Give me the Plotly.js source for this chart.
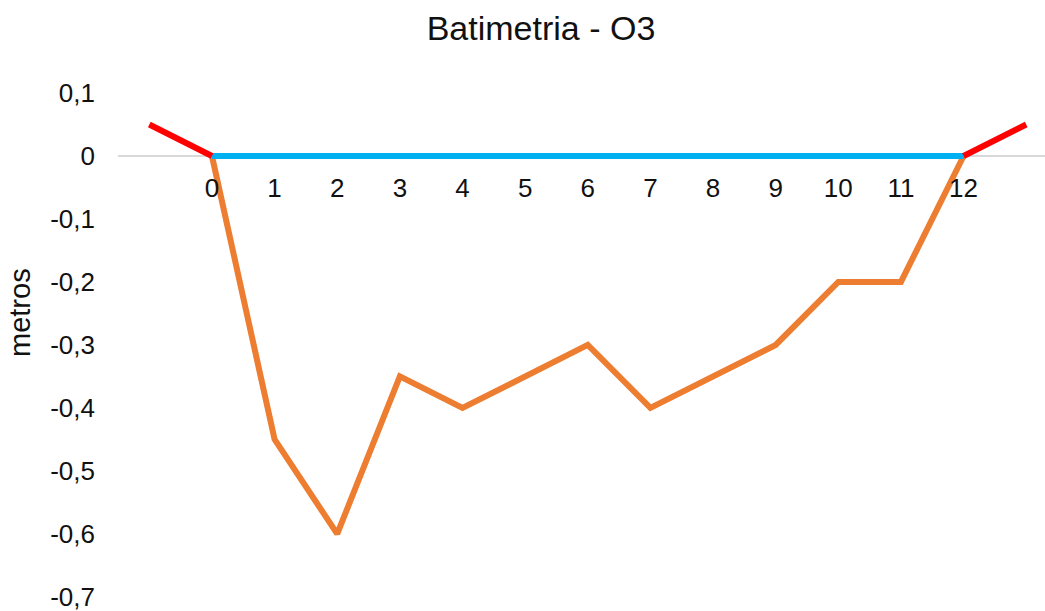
<!DOCTYPE html>
<html>
<head>
<meta charset="utf-8">
<script src="https://cdn.plot.ly/plotly-3.0.1.min.js"></script>
<style>html,body{margin:0;padding:0;background:#fff;}#chart{width:1045px;height:611px;}</style>
</head>
<body>
<div id="chart"></div>
<script>
// Data
const stations = [0, 1, 2, 3, 4, 5, 6, 7, 8, 9, 10, 11, 12];
const depth = [0, -0.45, -0.6, -0.35, -0.4, -0.35, -0.3, -0.4, -0.35, -0.3, -0.2, -0.2, 0];
const surfaceX = [0, 12];
const surfaceY = [0, 0];
const leftBankX = [-1, 0];
const leftBankY = [0.05, 0];
const rightBankX = [12, 13];
const rightBankY = [0, 0.05];
const yTickVals = [0.1, 0, -0.1, -0.2, -0.3, -0.4, -0.5, -0.6, -0.7];
const yTickText = ['0,1', '0', '-0,1', '-0,2', '-0,3', '-0,4', '-0,5', '-0,6', '-0,7'];
const xTickVals = stations;
const xTickText = stations.map(String);

const font = 'Liberation Sans, Arial, sans-serif';
const yMin = -0.705, yMax = 0.1;

const traces = [
  {x: stations, y: depth, type: 'scatter', mode: 'lines',
   line: {color: '#ED7D31', width: 6, shape: 'linear'}, hoverinfo: 'skip'},
  {x: surfaceX, y: surfaceY, type: 'scatter', mode: 'lines',
   line: {color: '#00B0F0', width: 6}, hoverinfo: 'skip'},
  {x: leftBankX, y: leftBankY, type: 'scatter', mode: 'lines',
   line: {color: '#FF0000', width: 6}, hoverinfo: 'skip'},
  {x: rightBankX, y: rightBankY, type: 'scatter', mode: 'lines',
   line: {color: '#FF0000', width: 6}, hoverinfo: 'skip'}
];

const layout = {
  width: 1045, height: 611,
  margin: {l: 118, r: 0, t: 93, b: 11},
  paper_bgcolor: '#fff', plot_bgcolor: '#fff',
  showlegend: false,
  font: {family: font, color: '#111'},
  title: {text: 'Batimetria - O3', font: {family: font, size: 34, color: '#111'},
          xref: 'container', x: 541 / 1045, xanchor: 'center',
          yref: 'container', y: 1 - 28 / 611, yanchor: 'middle'},
  xaxis: {range: [-1.5, 13.3], anchor: 'free', position: (0 - yMin) / (yMax - yMin),
          tickvals: xTickVals, ticktext: xTickText, ticks: '', showline: false,
          showgrid: false, zeroline: false, ticklabelstandoff: 14,
          ticklabeloverflow: 'allow',
          tickfont: {family: font, size: 26, color: '#111'}, fixedrange: true},
  yaxis: {range: [yMin, yMax], tickvals: yTickVals, ticktext: yTickText,
          ticks: '', showline: false, showgrid: false,
          zeroline: true, zerolinecolor: '#d9d9d9', zerolinewidth: 2,
          ticklabelstandoff: 22, ticklabeloverflow: 'allow',
          tickfont: {family: font, size: 26, color: '#111'},
          fixedrange: true},
  annotations: [
    {text: 'metros', textangle: -90, showarrow: false,
     xref: 'paper', yref: 'paper', xanchor: 'center', yanchor: 'middle',
     x: -98 / 927, y: (611 - 11 - 313) / (611 - 93 - 11),
     font: {family: font, size: 29, color: '#111'}}
  ]
};

Plotly.newPlot('chart', traces, layout, {displayModeBar: false, staticPlot: true});
</script>
</body>
</html>
